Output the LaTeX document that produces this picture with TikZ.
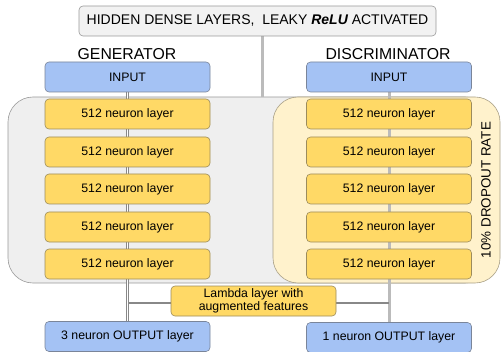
\documentclass[tikz,border=0pt]{standalone}
\usepackage{fontspec}
\setmainfont{Liberation Sans}
\definecolor{inblue}{HTML}{A4C2F4}
\definecolor{inedge}{HTML}{7A8599}
\definecolor{layyellow}{HTML}{FFD966}
\definecolor{layedge}{HTML}{9C8C5C}
\definecolor{dropfill}{HTML}{FFF2CC}
\definecolor{dropedge}{HTML}{A89F86}
\definecolor{genfill}{HTML}{EFEFEF}
\definecolor{boxedge}{HTML}{999999}
\definecolor{wire}{HTML}{888888}
\definecolor{wirelight}{HTML}{BBBBBB}

\pgfdeclarelayer{regions}
\pgfdeclarelayer{wires}
\pgfsetlayers{regions,wires,main}

\tikzset{
  block/.style={draw, rounded corners=4pt, minimum width=165pt, minimum height=30pt,
    inner sep=1pt, font=\fontsize{12.3}{14}\selectfont, line width=0.6pt},
  inbox/.style={block, fill=inblue, draw=inedge},
  layer/.style={block, fill=layyellow, draw=layedge},
  heading/.style={font=\fontsize{15.8}{18}\selectfont}
}

\begin{document}
\begin{tikzpicture}[x=1pt, y=-1pt]
\useasboundingbox (0,0) rectangle (502,352);

% title
\node[block, fill=black!5, draw=boxedge, minimum width=357pt, font=\fontsize{14}{16}\selectfont]
  (title) at (257.5,21) {HIDDEN DENSE LAYERS, \ LEAKY {\bfseries\itshape ReLU} ACTIVATED};

\node[heading] (gen) at (127,54) {GENERATOR};
\node[heading] (dis) at (388,54) {DISCRIMINATOR};

% generator stack
\node[inbox] (gin) at (127.5,77) {INPUT};
\node[layer] (g1) at (127.5,114) {512 neuron layer};
\node[layer] (g2) at (127.5,152) {512 neuron layer};
\node[layer] (g3) at (127.5,189) {512 neuron layer};
\node[layer] (g4) at (127.5,227) {512 neuron layer};
\node[layer] (g5) at (127.5,264) {512 neuron layer};
\node[inbox] (gout) at (127.5,336.5) {3 neuron OUTPUT layer};

% discriminator stack
\node[inbox] (din) at (389,77) {INPUT};
\node[layer] (d1) at (389,114) {512 neuron layer};
\node[layer] (d2) at (389,152) {512 neuron layer};
\node[layer] (d3) at (389,189) {512 neuron layer};
\node[layer] (d4) at (389,227) {512 neuron layer};
\node[layer] (d5) at (389,264) {512 neuron layer};
\node[inbox] (dout) at (389,337.5) {1 neuron OUTPUT layer};

\node[rotate=90, font=\fontsize{13.4}{15}\selectfont] (drop) at (486,190) {10\% DROPOUT RATE};

\node[layer, align=center, font=\fontsize{12.3}{12.5}\selectfont] (lam) at (253.5,301)
  {Lambda layer with\\augmented features};

\coordinate (hub) at (262,97);

\begin{pgfonlayer}{regions}
  \draw[boxedge, fill=genfill, rounded corners=25pt, line width=0.6pt] (8,97) rectangle (490,283);
  \draw[dropedge, fill=dropfill, rounded corners=25pt, line width=0.6pt] (273,97) rectangle (500,283);
\end{pgfonlayer}

\begin{pgfonlayer}{wires}
  \draw[wirelight, line width=3pt] (title.south -| hub) -- (hub);
  \draw[wire, double=white, double distance=1.5pt, line width=0.7pt] (gin.south) -- (gout.north);
  \draw[wirelight, line width=3pt] (din.south) -- (dout.north);
  \draw[wire, line width=1.5pt] (lam.west |- 0,303) -- (gin |- 0,303);
  \draw[wire, line width=1.5pt] (lam.east |- 0,303) -- (din |- 0,303);
\end{pgfonlayer}
\end{tikzpicture}
\end{document}
